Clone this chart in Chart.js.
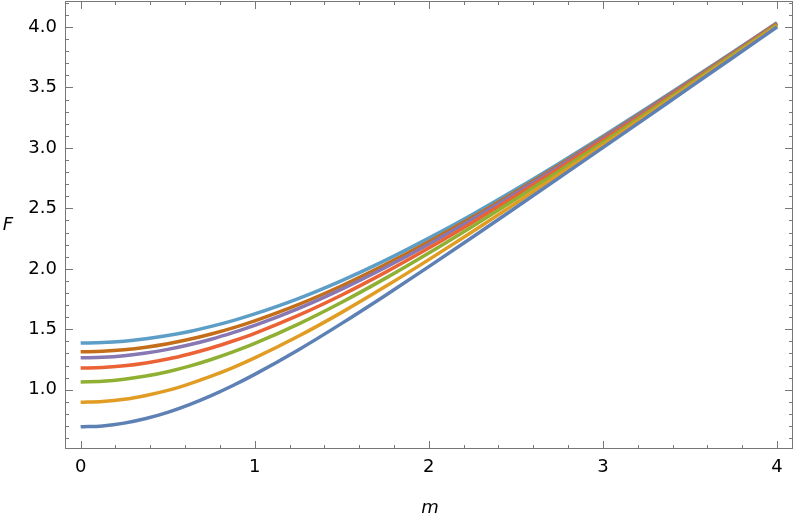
<!DOCTYPE html>
<html>
<head>
<meta charset="utf-8">
<script src="https://cdn.jsdelivr.net/npm/chart.js@4/dist/chart.umd.min.js"></script>
<style>
  body { margin: 0; background: #fff; }
  #wrap { width: 795px; height: 523px; }
</style>
</head>
<body>
<div id="wrap"><canvas id="fChart" width="795" height="523"></canvas></div>
<script>
// valores
const mValues = [0, 0.125, 0.25, 0.375, 0.5, 0.625, 0.75, 0.875, 1, 1.25, 1.5, 1.75, 2, 2.25, 2.5, 2.75, 3, 3.25, 3.5, 3.75, 4];
const fSerie1 = [0.693, 0.701, 0.724, 0.762, 0.813, 0.877, 0.951, 1.035, 1.127, 1.329, 1.549, 1.780, 2.018, 2.261, 2.507, 2.754, 3.002, 3.251, 3.501, 3.750, 4.000];
const fSerie2 = [0.896, 0.903, 0.921, 0.953, 0.995, 1.049, 1.112, 1.183, 1.263, 1.442, 1.640, 1.853, 2.076, 2.307, 2.543, 2.782, 3.025, 3.268, 3.515, 3.761, 4.008];
const fSerie3 = [1.065, 1.070, 1.086, 1.113, 1.149, 1.195, 1.250, 1.313, 1.383, 1.543, 1.724, 1.921, 2.131, 2.351, 2.578, 2.810, 3.046, 3.285, 3.528, 3.772, 4.017];
const fSerie4 = [1.179, 1.183, 1.198, 1.222, 1.254, 1.296, 1.345, 1.403, 1.467, 1.615, 1.784, 1.971, 2.172, 2.384, 2.604, 2.831, 3.063, 3.298, 3.538, 3.779, 4.023];
const fSerie5 = [1.264, 1.269, 1.282, 1.304, 1.334, 1.372, 1.418, 1.472, 1.532, 1.671, 1.832, 2.011, 2.204, 2.410, 2.625, 2.848, 3.076, 3.309, 3.546, 3.786, 4.028];
const fSerie6 = [1.314, 1.318, 1.330, 1.351, 1.380, 1.417, 1.461, 1.512, 1.570, 1.704, 1.860, 2.035, 2.224, 2.426, 2.638, 2.858, 3.084, 3.316, 3.552, 3.790, 4.031];
const fSerie7 = [1.386, 1.390, 1.402, 1.421, 1.448, 1.482, 1.524, 1.572, 1.627, 1.754, 1.903, 2.070, 2.254, 2.450, 2.658, 2.874, 3.097, 3.326, 3.560, 3.796, 4.036];
const xTicks = [0, 1, 2, 3, 4];
const yTicks = [1.0, 1.5, 2.0, 2.5, 3.0, 3.5, 4.0];

const series = [fSerie1, fSerie2, fSerie3, fSerie4, fSerie5, fSerie6, fSerie7];
const colores = ['#5E81B5', '#E19C24', '#8FB032', '#EB6235', '#8778B3', '#C56E1A', '#5D9EC7'];
const fuente = '"DejaVu Sans", sans-serif';

// marco con ticks hacia adentro, al estilo Mathematica
const marcoPlugin = {
  id: 'marco',
  afterDraw(chart) {
    const {ctx, chartArea: a, scales} = chart;
    const sx = scales.x, sy = scales.y;
    ctx.save();
    ctx.strokeStyle = '#777';
    ctx.lineWidth = 1;
    ctx.strokeRect(a.left + 0.5, a.top + 0.5, a.right - a.left - 1, a.bottom - a.top - 1);
    ctx.beginPath();
    for (let i = -1; i <= 21; i++) {
      const v = i * 0.2;
      if (v < sx.min || v > sx.max) continue;
      const px = Math.round(sx.getPixelForValue(v)) + 0.5;
      const len = (i % 5 === 0) ? 8 : 4;
      ctx.moveTo(px, a.bottom); ctx.lineTo(px, a.bottom - len);
      ctx.moveTo(px, a.top); ctx.lineTo(px, a.top + len);
    }
    for (let i = 5; i <= 42; i++) {
      const v = i * 0.1;
      if (v < sy.min || v > sy.max) continue;
      const py = Math.round(sy.getPixelForValue(v)) + 0.5;
      const len = (i % 5 === 0) ? 8 : 4;
      ctx.moveTo(a.left, py); ctx.lineTo(a.left + len, py);
      ctx.moveTo(a.right, py); ctx.lineTo(a.right - len, py);
    }
    ctx.stroke();
    // titulos de ejes
    ctx.fillStyle = '#000';
    ctx.font = 'italic 18px ' + fuente;
    ctx.textAlign = 'center';
    ctx.textBaseline = 'middle';
    ctx.fillText('m', (a.left + a.right) / 2 + 1, 508);
    ctx.fillText('F', 8, 225);
    ctx.restore();
  }
};

const ctx = document.getElementById('fChart');
const myChart = new Chart(ctx, {
  type: 'line',
  data: {
    datasets: series.map((s, i) => ({
      data: mValues.map((m, j) => ({x: m, y: s[j]})),
      borderColor: colores[i],
      backgroundColor: colores[i],
      borderWidth: 3.5,
      pointRadius: 0,
      fill: false,
      cubicInterpolationMode: 'monotone'
    }))
  },
  options: {
    responsive: false,
    animation: false,
    layout: {padding: {top: 1, right: 2, left: 0, bottom: 0}},
    plugins: {legend: {display: false}, tooltip: {enabled: false}},
    scales: {
      x: {
        type: 'linear',
        min: -0.09,
        max: 4.092,
        grid: {display: false, drawTicks: false},
        border: {display: false},
        afterBuildTicks: (scale) => { scale.ticks = xTicks.map(v => ({value: v})); },
        afterFit: (scale) => { scale.height = 74; scale.paddingLeft = 0; scale.paddingRight = 0; },
        ticks: {
          padding: 8,
          color: '#000',
          font: {family: fuente, size: 18},
          callback: (v) => String(v)
        }
      },
      y: {
        type: 'linear',
        min: 0.51,
        max: 4.215,
        grid: {display: false, drawTicks: false},
        border: {display: false},
        afterBuildTicks: (scale) => { scale.ticks = yTicks.map(v => ({value: v})); },
        afterFit: (scale) => { scale.width = 65; scale.paddingTop = 0; scale.paddingBottom = 0; },
        ticks: {
          padding: 8,
          color: '#000',
          font: {family: fuente, size: 18},
          callback: (v) => Number(v).toFixed(1)
        }
      }
    }
  },
  plugins: [marcoPlugin]
});
</script>
</body>
</html>
